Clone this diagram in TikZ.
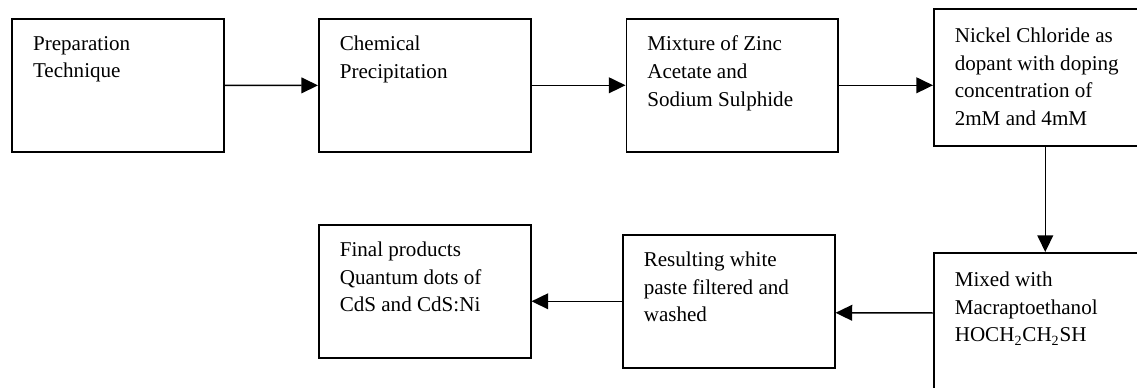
\documentclass[tikz,border=0pt]{standalone}
\usepackage{fontspec}
\setmainfont{Liberation Serif}
\usetikzlibrary{arrows.meta,positioning}

\newcommand{\steptext}[1]{\parbox[t][1.98cm][t]{3.4cm}{\raggedright #1}}

\begin{document}
\begin{tikzpicture}[x=0.02cm,y=-0.02cm,
  stepbox/.style={draw,line width=0.9pt,rectangle,anchor=north west,
    inner xsep=0.42cm,inner ysep=0.34cm,
    font=\fontsize{12}{15.8}\selectfont},
  arrow/.style={line width=0.85pt,-{Triangle[length=9.5pt,width=9pt]}}]
  \useasboundingbox (0,0) rectangle (1137,387);
  \node[stepbox,line width=1.2pt] (prep) at (11,18) {\steptext{Preparation\\Technique}};
  \node[stepbox] (chem) at (318,18) {\steptext{Chemical\\Precipitation}};
  \node[stepbox] (mix) at (625.5,18) {\steptext{Mixture of Zinc\\Acetate and\\Sodium Sulphide}};
  \node[stepbox,inner ysep=0.38cm] (nickel) at (933,8) {\steptext{Nickel Chloride as\\dopant with doping\\concentration of\\2mM and 4mM}};
  \node[stepbox,inner ysep=0.38cm] (mixed) at (933,252) {\steptext{Mixed with\\Macraptoethanol\\HOCH\textsubscript{2}CH\textsubscript{2}SH}};
  \node[stepbox] (result) at (622,234) {\steptext{Resulting white\\paste filtered and\\washed}};
  \node[stepbox] (final) at (318,224) {\steptext{Final products\\Quantum dots of\\CdS and CdS:Ni}};
  \path[arrow]
    (prep) edge (chem)
    (chem) edge (mix)
    (mix.east) edge (mix.east -| nickel.west)
    ([xshift=0.11cm]nickel.south) edge ([xshift=0.11cm]mixed.north)
    ([yshift=-1.22cm]mixed.north west) edge ([yshift=-0.23cm]result.east)
    (result.west) edge (result.west -| final.east);
\end{tikzpicture}
\end{document}
